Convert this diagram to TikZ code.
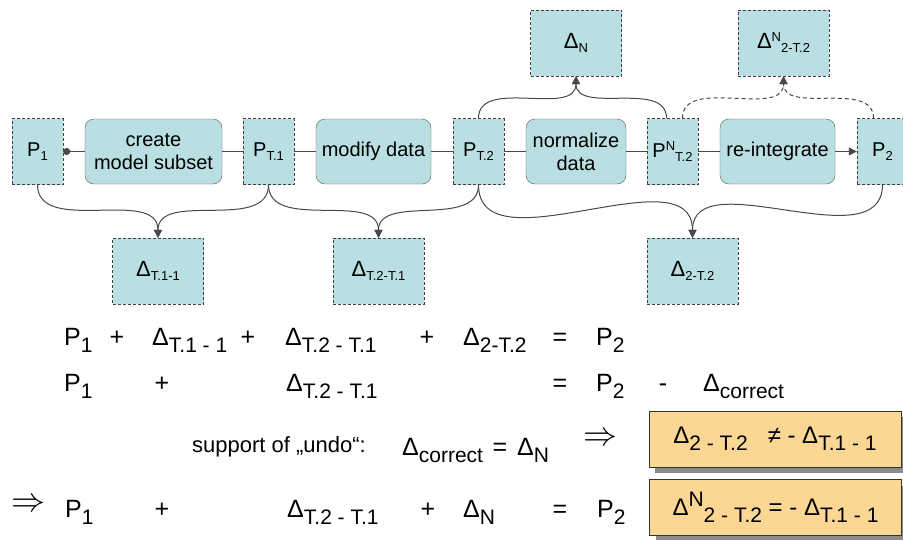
\documentclass[tikz,border=0pt]{standalone}
\usepackage{fontspec}
\usepackage{graphicx}
\setmainfont{Liberation Sans}
\usetikzlibrary{arrows.meta,shadows}

\definecolor{tealbg}{HTML}{B9DFE2}
\definecolor{goldbg}{HTML}{FCD793}
\definecolor{linegray}{HTML}{484848}

% lowered / raised indices
\newcommand{\blo}[1]{\raisebox{-4pt}{\fontsize{13}{13}\selectfont #1}}
\newcommand{\bhi}[1]{\raisebox{7pt}{\fontsize{13}{13}\selectfont #1}}
\newcommand{\elo}[1]{\raisebox{-7pt}{\fontsize{21}{21}\selectfont #1}}
\newcommand{\ehi}[1]{\raisebox{9pt}{\fontsize{21}{21}\selectfont #1}}
\newcommand{\bigimp}{\resizebox{34pt}{!}{$\Rightarrow$}}

\tikzset{
  pbox/.style={draw=black!75, dash pattern=on 3pt off 2pt, fill=tealbg,
    minimum width=51pt, minimum height=66pt, inner sep=0pt,
    font=\fontsize{20}{23}\selectfont},
  dbox/.style={pbox, minimum width=91pt, font=\fontsize{22}{23}\selectfont},
  stepbox/.style={draw=black!65, rounded corners=9pt, fill=tealbg,
    minimum height=65pt, inner sep=0pt, align=center,
    font=\fontsize{20}{23}\selectfont},
  flow/.style={draw=linegray, line width=1pt},
  tip/.style={flow, -{Triangle[length=8pt,width=8pt]}},
  eq/.style={anchor=base west, inner sep=0pt, font=\fontsize{25}{25}\selectfont},
  op/.style={eq, anchor=base},
  implies/.style={inner sep=0pt},
  result/.style={draw=black!80, fill=goldbg, inner sep=0pt,
    minimum width=252pt, minimum height=56pt, font=\fontsize{24}{24}\selectfont,
    drop shadow={shadow xshift=6pt, shadow yshift=-6pt, fill=gray!90, opacity=1}},
}

\begin{document}
\begin{tikzpicture}[x=1pt, y=-1pt]
\useasboundingbox (0,0) rectangle (903,539);

% process row
\node[pbox] (p1) at (37.5,151.5) {P\blo{1}};
\node[stepbox, minimum width=137pt] (subset) at (153.5,151.5) {create\\model subset};
\node[pbox] (pt1) at (268.5,151.5) {P\blo{T.1}};
\node[stepbox, minimum width=115pt] (modify) at (373.5,151.5) {modify data};
\node[pbox] (pt2) at (478.5,151.5) {P\blo{T.2}};
\node[stepbox, minimum width=100pt] (norm) at (576,151.5) {normalize\\data};
\node[pbox] (pnt2) at (672.5,151.5) {P\bhi{N}\blo{T.2}};
\node[stepbox, minimum width=115pt] (reint) at (777.5,151.5) {re-integrate};
\node[pbox] (p2) at (882.5,151.5) {P\blo{2}};

% deltas
\node[dbox] (dn) at (576,43) {Δ\blo{N}};
\node[dbox] (dn2) at (783.5,43) {Δ\bhi{N}\blo{2-T.2}};
\node[dbox] (d11) at (158,271) {Δ\blo{T.1-1}};
\node[dbox] (d21) at (378.5,271) {Δ\blo{T.2-T.1}};
\node[dbox] (d22) at (692.5,271) {Δ\blo{2-T.2}};

\draw[flow, {Circle[length=7pt]}-] (p1) -- (subset);
\draw[flow] (subset) -- (pt1);
\draw[flow] (pt1) -- (modify);
\draw[flow] (modify) -- (pt2);
\draw[flow] (pt2) -- (norm);
\draw[flow] (norm) -- (pnt2);
\draw[flow] (pnt2) -- (reint);
\draw[tip] (reint) -- (p2);

\draw[tip] (p1.south) to[out=-90,in=90] (d11.north);
\draw[tip] (pt1.south) to[out=-90,in=90] (d11.north);
\draw[tip] (pt1.south) to[out=-90,in=90] (d21.north);
\draw[tip] (pt2.south) to[out=-90,in=90] (d21.north);
\draw[tip] (pt2.south) to[out=-90,in=90] (d22.north);
\draw[tip] (p2.south) to[out=-90,in=90] (d22.north);

\draw[tip] (pt2.north) to[out=90,in=-90] (dn.south);
\draw[tip] ([xshift=-6pt]pnt2.north) to[out=90,in=-90] (dn.south);
\draw[tip, dash pattern=on 4pt off 3pt] ([xshift=10pt]pnt2.north) to[out=90,in=-90] (dn2.south);
\draw[tip, dash pattern=on 4pt off 3pt] ([xshift=-9pt]p2.north) to[out=90,in=-90] (dn2.south);

% equations
\node[eq] (r1p1) at (64,345) {P\elo{1}};
\node[op] (r1a) at (117,345) {+};
\node[eq] (r1d1) at (152,345) {Δ\elo{T.1 - 1}};
\node[op] (r1b) at (248,345) {+};
\node[eq] (r1d2) at (285,345) {Δ\elo{T.2 - T.1}};
\node[op] (r1c) at (427,345) {+};
\node[eq] (r1d3) at (463,345) {Δ\elo{2-T.2}};
\node[op] (r1eq) at (560,345) {=};
\node[eq] (r1p2) at (596,345) {P\elo{2}};

\node[eq] (r2p1) at (64,391) {P\elo{1}};
\node[op] (r2a) at (162,391) {+};
\node[eq] (r2d2) at (286,391) {Δ\elo{T.2 - T.1}};
\node[op] (r2eq) at (560,391) {=};
\node[eq] (r2p2) at (596,391) {P\elo{2}};
\node[op] (r2m) at (663,391) {-};
\node[eq] (r2dc) at (703,391) {Δ\elo{correct}};

\node[eq, font=\fontsize{22}{22}\selectfont] (undo) at (192,452) {support of „undo“:};
\node[eq] (r3dc) at (402,455) {Δ\elo{correct}};
\node[op] (r3eq) at (500,455) {=};
\node[eq] (r3dn) at (517,455) {Δ\elo{N}};
\node[implies] (r3imp) at (600,439) {\bigimp};
\node[result] (neq) at (775,439) {Δ\elo{2 - T.2}\hspace{20pt}≠ - Δ\elo{T.1 - 1}};

\node[implies] (r4imp) at (28.5,505) {\bigimp};
\node[eq] (r4p1) at (65,517) {P\elo{1}};
\node[op] (r4a) at (162,517) {+};
\node[eq] (r4d2) at (287,517) {Δ\elo{T.2 - T.1}};
\node[op] (r4b) at (428,517) {+};
\node[eq] (r4dn) at (463,517) {Δ\elo{N}};
\node[op] (r4eq) at (560,517) {=};
\node[eq] (r4p2) at (597,517) {P\elo{2}};
\node[result] (eqn) at (775.5,507.5) {Δ\ehi{N}\elo{2 - T.2} = - Δ\elo{T.1 - 1}};
\end{tikzpicture}
\end{document}
